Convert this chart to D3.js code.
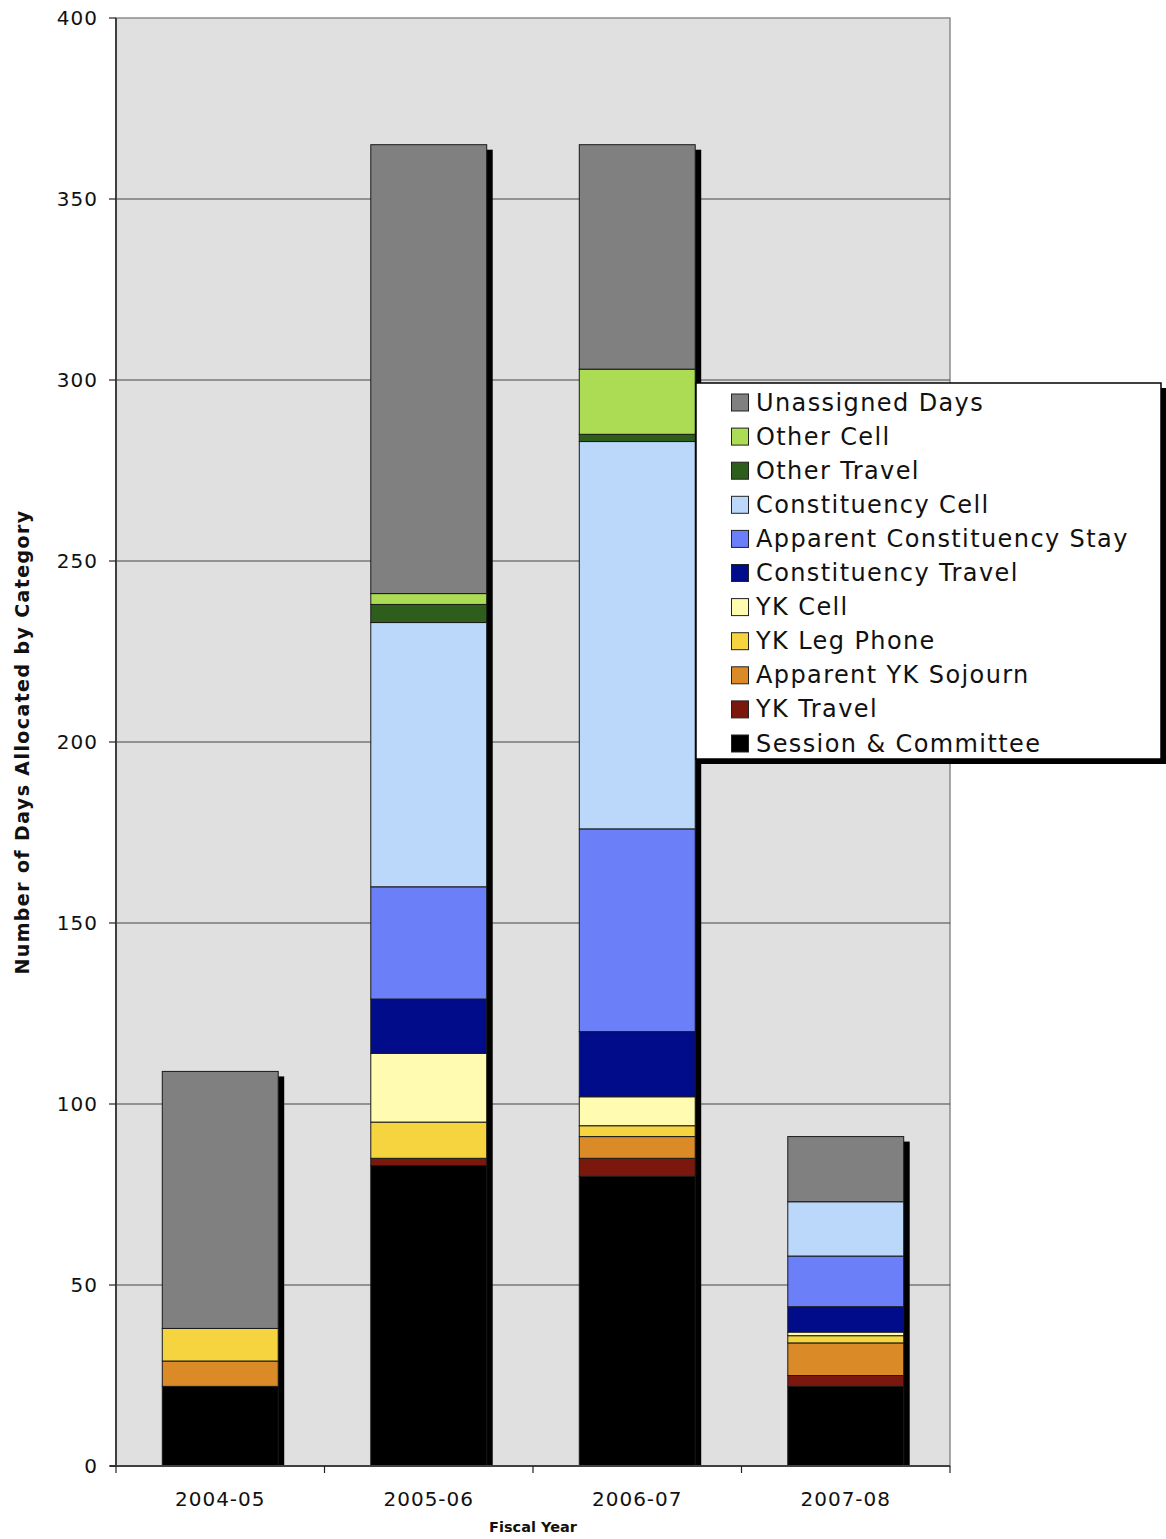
<!DOCTYPE html>
<html>
<head>
<meta charset="utf-8">
<script src="https://cdn.jsdelivr.net/npm/d3@7"></script>
<style>
  html, body { margin: 0; padding: 0; background: #fff; }
  svg { display: block; font-family: "DejaVu Sans", Verdana, sans-serif; }
</style>
</head>
<body>
<svg id="chart" width="1166" height="1539"></svg>
<script>
// ---- Data ----
const years = ["2004-05", "2005-06", "2006-07", "2007-08"];
const seriesNames = [
  "Session & Committee", "YK Travel", "Apparent YK Sojourn", "YK Leg Phone", "YK Cell",
  "Constituency Travel", "Apparent Constituency Stay", "Constituency Cell",
  "Other Travel", "Other Cell", "Unassigned Days"
];
const sessionCommittee   = [22, 83, 80, 22];
const ykTravel           = [0, 2, 5, 3];
const apparentYKSojourn  = [7, 0, 6, 9];
const ykLegPhone         = [9, 10, 3, 2];
const ykCell             = [0, 19, 8, 1];
const constTravel        = [0, 15, 18, 7];
const apparentConstStay  = [0, 31, 56, 14];
const constCell          = [0, 73, 107, 15];
const otherTravel        = [0, 5, 2, 0];
const otherCell          = [0, 3, 18, 0];
const unassignedDays     = [71, 124, 62, 18];
const yTicks = [0, 50, 100, 150, 200, 250, 300, 350, 400];
const colors = ["#000000", "#7a180d", "#db8a28", "#f5d43f", "#fffbb0",
                "#000c8a", "#6a7ff8", "#bbd8fb", "#2e5e1b", "#acdc54", "#808080"];

const seriesValues = [sessionCommittee, ykTravel, apparentYKSojourn, ykLegPhone, ykCell,
  constTravel, apparentConstStay, constCell, otherTravel, otherCell, unassignedDays];

const table = years.map((yr, i) => {
  const row = { year: yr };
  seriesNames.forEach((s, k) => row[s] = seriesValues[k][i]);
  return row;
});

// ---- Layout ----
const svg = d3.select("#chart");
const L = 116, R = 950, T = 18, B = 1466;

const x = d3.scaleBand().domain(years).range([L, R]).paddingInner(0.444).paddingOuter(0.222);
const y = d3.scaleLinear().domain([0, 400]).range([B, T]);

// plot background
svg.append("rect").attr("x", L).attr("y", T).attr("width", R - L).attr("height", B - T)
  .attr("fill", "#e0e0e0").attr("stroke", "#8c8c8c").attr("stroke-width", 1.5);

// gridlines
svg.append("g").selectAll("line").data(yTicks.filter(d => d > 0 && d < 400)).join("line")
  .attr("x1", L).attr("x2", R).attr("y1", d => y(d)).attr("y2", d => y(d))
  .attr("stroke", "#444").attr("stroke-width", 1);

// stacks
const stack = d3.stack().keys(seriesNames);
const stacked = stack(table);

// shadows
const totals = table.map(r => d3.sum(seriesNames, s => r[s]));
svg.append("g").selectAll("rect").data(years).join("rect")
  .attr("x", d => x(d) + 6)
  .attr("y", (d, i) => y(totals[i]) + 5)
  .attr("width", x.bandwidth())
  .attr("height", (d, i) => B - y(totals[i]) - 5)
  .attr("fill", "#000");

// segments
svg.append("g").selectAll("g").data(stacked).join("g")
  .attr("fill", (d, k) => colors[k])
  .selectAll("rect").data(d => d.filter(p => p[1] - p[0] > 0)).join("rect")
  .attr("x", d => x(d.data.year))
  .attr("y", d => y(d[1]))
  .attr("width", x.bandwidth())
  .attr("height", d => y(d[0]) - y(d[1]))
  .attr("stroke", "#1a1a1a").attr("stroke-width", 1);

// axes lines
svg.append("line").attr("x1", L).attr("x2", L).attr("y1", T).attr("y2", B)
  .attr("stroke", "#404040").attr("stroke-width", 2);
svg.append("line").attr("x1", L - 6).attr("x2", R).attr("y1", B).attr("y2", B)
  .attr("stroke", "#404040").attr("stroke-width", 2);

// y ticks & labels
const yAxis = svg.append("g");
yAxis.selectAll("line").data(yTicks).join("line")
  .attr("x1", L - 7).attr("x2", L).attr("y1", d => y(d)).attr("y2", d => y(d))
  .attr("stroke", "#222").attr("stroke-width", 1.2);
yAxis.selectAll("text").data(yTicks).join("text")
  .attr("x", 98).attr("y", d => y(d) + 7)
  .attr("text-anchor", "end").attr("font-size", 20).attr("letter-spacing", 1.0)
  .attr("fill", "#111").text(d => d);

// x ticks & labels
svg.append("g").selectAll("line").data(d3.range(years.length + 1)).join("line")
  .attr("x1", i => L + i * (R - L) / years.length).attr("x2", i => L + i * (R - L) / years.length)
  .attr("y1", B).attr("y2", B + 7)
  .attr("stroke", "#222").attr("stroke-width", 1.2);
svg.append("g").selectAll("text").data(years).join("text")
  .attr("x", d => x(d) + x.bandwidth() / 2).attr("y", 1506)
  .attr("text-anchor", "middle").attr("font-size", 20).attr("letter-spacing", 1.0)
  .attr("fill", "#111").text(d => d);

// axis titles
svg.append("text").attr("x", 533).attr("y", 1532)
  .attr("text-anchor", "middle").attr("font-size", 14.5).attr("font-weight", "bold")
  .attr("fill", "#111").text("Fiscal Year");
svg.append("text").attr("transform", "translate(29,742) rotate(-90)")
  .attr("text-anchor", "middle").attr("font-size", 19).attr("font-weight", "bold")
  .attr("letter-spacing", 1.4).attr("fill", "#111")
  .text("Number of Days Allocated by Category");

// legend
const lg = svg.append("g");
const LX = 696, LY = 383, LW = 465, LH = 376;
lg.append("rect").attr("x", LX + 5).attr("y", LY + 5).attr("width", LW).attr("height", LH).attr("fill", "#000");
lg.append("rect").attr("x", LX).attr("y", LY).attr("width", LW).attr("height", LH)
  .attr("fill", "#fff").attr("stroke", "#000").attr("stroke-width", 1.5);
const legendOrder = seriesNames.map((s, k) => k).reverse();
const items = lg.selectAll("g.item").data(legendOrder).join("g").attr("class", "item")
  .attr("transform", (k, i) => `translate(0, ${402 + i * 34.1})`);
items.append("rect").attr("x", 731.5).attr("y", -8).attr("width", 17).attr("height", 17)
  .attr("fill", k => colors[k]).attr("stroke", "#222").attr("stroke-width", 1);
items.append("text").attr("x", 756).attr("y", 8.5)
  .attr("font-size", 24).attr("letter-spacing", 1.4).attr("fill", "#111")
  .text(k => seriesNames[k]);
</script>
</body>
</html>
